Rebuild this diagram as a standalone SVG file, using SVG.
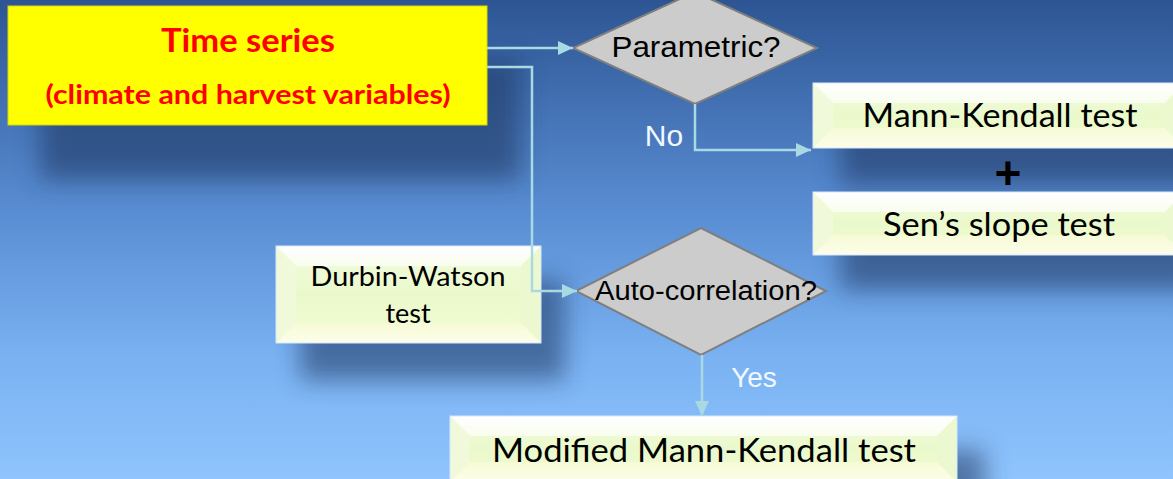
<svg xmlns="http://www.w3.org/2000/svg" width="1173" height="479" viewBox="0 0 1173 479">
<defs>
<linearGradient id="bg" x1="0" y1="0" x2="0" y2="1">
<stop offset="0" stop-color="#2d5593"/>
<stop offset="0.45" stop-color="#5a8ed4"/>
<stop offset="0.75" stop-color="#7ab2f2"/>
<stop offset="1" stop-color="#8fc4fd"/>
</linearGradient>
<linearGradient id="topB" x1="0" y1="0" x2="0" y2="1">
<stop offset="0" stop-color="#ffffff"/>
<stop offset="1" stop-color="#f9fdee"/>
</linearGradient>
<linearGradient id="midB" x1="0" y1="0" x2="0" y2="1">
<stop offset="0" stop-color="#f3fbe0"/>
<stop offset="0.5" stop-color="#eaf9cb"/>
<stop offset="1" stop-color="#f2fbd4"/>
</linearGradient>
<linearGradient id="botB" x1="0" y1="0" x2="0" y2="1">
<stop offset="0" stop-color="#f6fbd6"/>
<stop offset="1" stop-color="#fdfdea"/>
</linearGradient>
<filter id="shadow" x="-20%" y="-50%" width="140%" height="200%">
<feGaussianBlur stdDeviation="12"/>
</filter>
<marker id="arrow" markerUnits="userSpaceOnUse" markerWidth="16" markerHeight="16" refX="15" refY="8" orient="auto">
<path d="M0,1 L15,8 L0,15 z" fill="#a9d9e3"/>
</marker>
<style>
.conn{fill:none;stroke:#a9d9e3;stroke-width:2.5}
.shd{fill:#1b355f;opacity:0.55;filter:url(#shadow)}
.bx{font-family:Lato,"Liberation Sans",sans-serif;fill:#000;text-anchor:middle}
.dia{fill:#cccccc;stroke:#7f7f7f;stroke-width:2}
.dt{font-family:"Liberation Sans",Arial,sans-serif;fill:#000;text-anchor:middle}
.lbl{font-family:"Liberation Sans",Arial,sans-serif;fill:#f2f8ff;text-anchor:middle}
.edge{fill:none;stroke:#d6e8fb;stroke-width:1}
.lside{fill:#f0f9da}
.rside{fill:#ecf8d0}
</style>
</defs>
<rect x="0" y="0" width="1173" height="479" fill="url(#bg)"/>

<g id="shadows">
<rect class="shd" x="40" y="60" width="480" height="120"/>
<rect class="shd" x="840" y="110" width="360" height="75"/>
<rect class="shd" x="840" y="215" width="360" height="75"/>
<rect class="shd" x="300" y="280" width="265" height="100"/>
<rect class="shd" x="475" y="450" width="510" height="60"/>
</g>

<g id="time-series">
<rect x="8" y="6" width="479" height="119" fill="#ffff00" stroke="#d9d600" stroke-width="1"/>
<text x="248" y="52" font-family="Lato,'Liberation Sans',sans-serif" font-weight="bold" font-size="33" fill="#ff0000" text-anchor="middle" textLength="174" lengthAdjust="spacingAndGlyphs">Time series</text>
<text x="248" y="104" font-family="Lato,'Liberation Sans',sans-serif" font-weight="bold" font-size="27" fill="#ff0000" text-anchor="middle" textLength="405" lengthAdjust="spacingAndGlyphs">(climate and harvest variables)</text>
</g>

<g id="parametric">
<polygon class="dia" points="695,-8 817,48 695,104 573,48"/>
<text class="dt" x="696" y="57" font-size="30" textLength="169" lengthAdjust="spacingAndGlyphs">Parametric?</text>
</g>

<g id="mann-kendall">
<rect x="813" y="83" width="372" height="65" fill="url(#midB)"/>
<polygon points="813,83 1185,83 1165,103 833,103" fill="url(#topB)"/>
<polygon class="lside" points="813,83 833,103 833,128 813,148"/>
<polygon class="rside" points="1185,83 1165,103 1165,128 1185,148"/>
<polygon points="813,148 833,128 1165,128 1185,148" fill="url(#botB)"/>
<rect class="edge" x="813" y="83" width="372" height="65"/>
<text class="bx" x="1000" y="127" font-size="32" textLength="275" lengthAdjust="spacingAndGlyphs">Mann-Kendall test</text>
</g>

<g id="plus">
<text x="1008" y="189" font-family="'Liberation Sans',Arial,sans-serif" font-weight="bold" font-size="46" fill="#000" text-anchor="middle">+</text>
</g>

<g id="sens-slope">
<rect x="813" y="192" width="372" height="63" fill="url(#midB)"/>
<polygon points="813,192 1185,192 1165,212 833,212" fill="url(#topB)"/>
<polygon class="lside" points="813,192 833,212 833,235 813,255"/>
<polygon class="rside" points="1185,192 1165,212 1165,235 1185,255"/>
<polygon points="813,255 833,235 1165,235 1185,255" fill="url(#botB)"/>
<rect class="edge" x="813" y="192" width="372" height="63"/>
<text class="bx" x="999" y="236" font-size="32" textLength="232" lengthAdjust="spacingAndGlyphs">Sen’s slope test</text>
</g>

<g id="durbin-watson">
<rect x="276" y="246" width="265" height="97" fill="url(#midB)"/>
<polygon points="276,246 541,246 521,266 296,266" fill="url(#topB)"/>
<polygon class="lside" points="276,246 296,266 296,323 276,343"/>
<polygon class="rside" points="541,246 521,266 521,323 541,343"/>
<polygon points="276,343 296,323 521,323 541,343" fill="url(#botB)"/>
<rect class="edge" x="276" y="246" width="265" height="97"/>
<text class="bx" x="408" y="286" font-size="27" textLength="195" lengthAdjust="spacingAndGlyphs">Durbin-Watson</text>
<text class="bx" x="408" y="323" font-size="27">test</text>
</g>

<g id="auto-correlation">
<polygon class="dia" points="701,228 826,291 701,355 576,291"/>
<text class="dt" x="706" y="300" font-size="27" textLength="222" lengthAdjust="spacingAndGlyphs">Auto-correlation?</text>
</g>

<g id="modified-mann-kendall">
<rect x="450" y="416" width="507" height="66" fill="url(#midB)"/>
<polygon points="450,416 957,416 937,436 470,436" fill="url(#topB)"/>
<polygon class="lside" points="450,416 470,436 470,462 450,482"/>
<polygon class="rside" points="957,416 937,436 937,462 957,482"/>
<polygon points="450,482 470,462 937,462 957,482" fill="url(#botB)"/>
<rect class="edge" x="450" y="416" width="507" height="66"/>
<text class="bx" x="704" y="462" font-size="33" textLength="424" lengthAdjust="spacingAndGlyphs">Modified Mann-Kendall test</text>
</g>

<g id="connectors">
<path class="conn" d="M487,48 H573" marker-end="url(#arrow)"/>
<path class="conn" d="M487,67 H532 V291 H577" marker-end="url(#arrow)"/>
<path class="conn" d="M695,104 V150 H811" marker-end="url(#arrow)"/>
<path class="conn" d="M702,355 V416" marker-end="url(#arrow)"/>
<text class="lbl" x="664" y="146" font-size="30">No</text>
<text class="lbl" x="754" y="387" font-size="28">Yes</text>
</g>
</svg>
